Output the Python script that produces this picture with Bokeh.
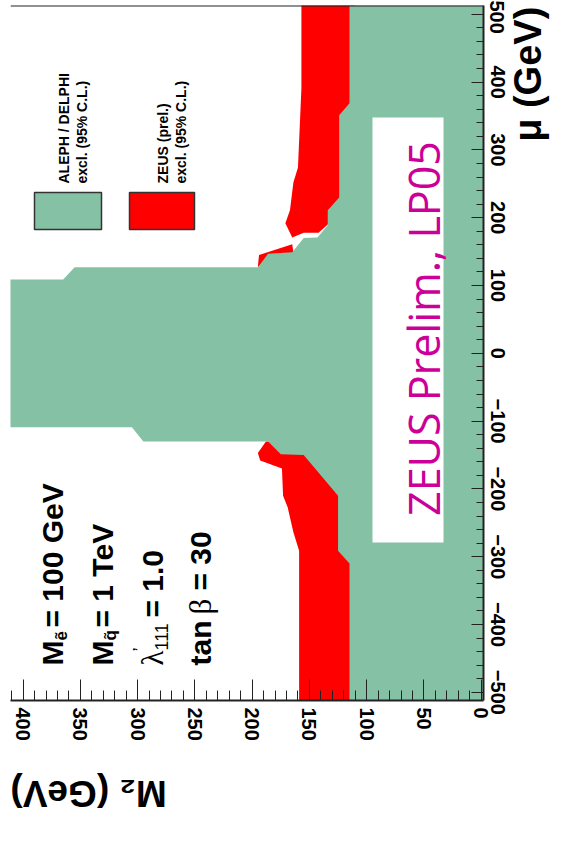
from math import pi
from bokeh.plotting import figure
from bokeh.models import Range1d, FixedTicker, Label, Span
from bokeh.embed import file_html
from bokeh.resources import INLINE

# ---------------- data ----------------
m2_ticks = [0, 50, 100, 150, 200, 250, 300, 350, 400]
m2_minor = list(range(0, 411, 10))
mu_ticks = [-500, -400, -300, -200, -100, 0, 100, 200, 300, 400, 500]
mu_minor = list(range(-500, 501, 20))

# ALEPH / DELPHI excluded region boundary (mu, M2), from top to bottom
aleph_mu = [515, 369, 351, 230, 211, 189, 171, 170, 149, 147, 127, 127, 109, 109,
            -109, -109, -130, -130, -149, -150, -210, -291, -310, -515]
aleph_m2 = [115, 115, 124, 124, 134, 134, 143, 155, 165, 186, 195, 355, 365, 415,
            415, 305, 295, 186, 175, 155, 125, 125, 115, 115]

# ZEUS (prel.) excluded regions
zeus_pos_mu = [515, 391, 274, 252, 211, 192, 171, 178, 178, 190, 190, 515]
zeus_pos_m2 = [157, 157, 160, 164, 167, 171, 165, 155, 142, 134, 110, 110]
zeus_mid_mu = [128, 145, 161, 149, 135, 125]
zeus_mid_m2 = [195, 194, 165, 164, 170, 190]
zeus_neg_mu = [-130, -147, -158, -170, -210, -227, -264, -291, -515, -515, -130]
zeus_neg_m2 = [188, 195, 193, 174, 173, 169, 164, 159, 159, 110, 110]

GREEN = "#85C2A5"
RED = "#FF0000"
MAGENTA = "#CC0099"

# ---------------- layout ----------------
W, H = 580, 842
FX0, FX1, FY0, FY1 = 10, 483, 5, 700      # frame in page pixels
XR = (411, -2)
YR = (-512, 513)

def m2_at(px):
    return XR[0] + (px - FX0) * (XR[1] - XR[0]) / (FX1 - FX0)

def mu_at(py):
    return YR[1] - (py - FY0) * (YR[1] - YR[0]) / (FY1 - FY0)

p = figure(width=W, height=H, output_backend="svg", toolbar_location=None,
           x_range=Range1d(*XR), y_range=Range1d(*YR),
           x_axis_location="below", y_axis_location="right",
           min_border_left=FX0, min_border_top=FY0,
           min_border_right=W - FX1, min_border_bottom=H - FY1)
p.grid.visible = False
p.outline_line_color = None
p.background_fill_color = "white"
p.border_fill_color = "white"

# regions
p.patch(zeus_pos_m2, zeus_pos_mu, fill_color=RED, line_color=None)
p.patch(zeus_mid_m2, zeus_mid_mu, fill_color=RED, line_color=None)
p.patch(zeus_neg_m2, zeus_neg_mu, fill_color=RED, line_color=None)
p.patch(aleph_m2 + [-5, -5], aleph_mu + [-515, 515], fill_color=GREEN, line_color=None)

# white box for the preliminary tag
p.quad(left=m2_at(372), right=m2_at(443), top=mu_at(117), bottom=mu_at(542),
       fill_color="white", line_color=None)

# legend boxes
p.quad(left=m2_at(34), right=m2_at(101), top=mu_at(192), bottom=mu_at(229),
       fill_color=GREEN, line_color="#333333", line_width=1.5)
p.quad(left=m2_at(129), right=m2_at(194), top=mu_at(192), bottom=mu_at(229),
       fill_color=RED, line_color="#333333", line_width=1.5)

# axes
for ax, ticks, minor, tin, mtin in ((p.xaxis[0], m2_ticks, m2_minor, 21, 10),
                                    (p.yaxis[0], mu_ticks, mu_minor, 12, 7)):
    ax.ticker = FixedTicker(ticks=ticks, minor_ticks=minor)
    ax.major_tick_in = tin
    ax.major_tick_out = 0
    ax.minor_tick_in = mtin
    ax.minor_tick_out = 0
    ax.major_tick_line_color = "#222222"
    ax.minor_tick_line_color = "#222222"
    ax.axis_line_color = "#222222"
    ax.axis_line_width = 2
    ax.major_label_orientation = "vertical"
    ax.major_label_text_font = "Liberation Sans"
    ax.major_label_text_font_style = "bold"
    ax.major_label_text_font_size = "20px"
    ax.major_label_text_color = "black"
    ax.major_label_standoff = 7
    ax.axis_label_text_font = "Liberation Sans"
    ax.axis_label_text_font_style = "bold"
    ax.axis_label_text_color = "black"

NB = "\u00a0"
xa = p.xaxis[0]
xa.axis_label = "M₂ (GeV)"
xa.axis_label_text_font_size = "37px"
xa.axis_label_orientation = pi
xa.axis_label_align = "end"
xa.axis_label_standoff = 50

ya = p.yaxis[0]
ya.axis_label = NB * 20 + "μ (GeV)"
ya.axis_label_text_font_size = "38px"
ya.axis_label_orientation = pi / 2
ya.axis_label_standoff = 20

p.add_layout(Span(location=YR[1], dimension="width", line_color="#222222", line_width=2))

def put(text, px, py, size, bold=True, font="Liberation Sans", color="black",
        angle=pi / 2, align="left", baseline="alphabetic"):
    p.add_layout(Label(x=m2_at(px), y=mu_at(py), text=text, angle=angle,
                       text_font=font, text_font_size=f"{size}px",
                       text_font_style="bold" if bold else "normal",
                       text_color=color, text_align=align, text_baseline=baseline))

# preliminary tag
put("ZEUS Prelim., LP05", 423, 328, 43, bold=False, font="Open Sans",
    color=MAGENTA, align="center")

# legend texts
put("ALEPH / DELPHI", 63, 183, 14)
put("excl. (95% C.L.)", 81, 183, 14)
put("ZEUS (prel.)", 162, 183, 14)
put("excl. (95% C.L.)", 180, 183, 14)

# parameters
put("M", 52, 665, 30)
put("ẽ", 61, 640, 17)
put("= 100 GeV", 52, 627, 30)
put("M", 102, 665, 30)
put("q̃", 110, 640, 17)
put("= 1 TeV", 102, 627, 30)
put("λ", 152, 665, 31, bold=False, font="Liberation Serif")
put("’", 139, 651, 18, bold=False)
put("111", 161, 650, 18, bold=False)
put("= 1.0", 152, 617, 30)
put("tan", 200, 665, 30)
put("β", 200, 614, 31, bold=False, font="Liberation Serif")
put("= 30", 200, 590, 30)

open("out.html", "w").write(file_html(p, INLINE))
